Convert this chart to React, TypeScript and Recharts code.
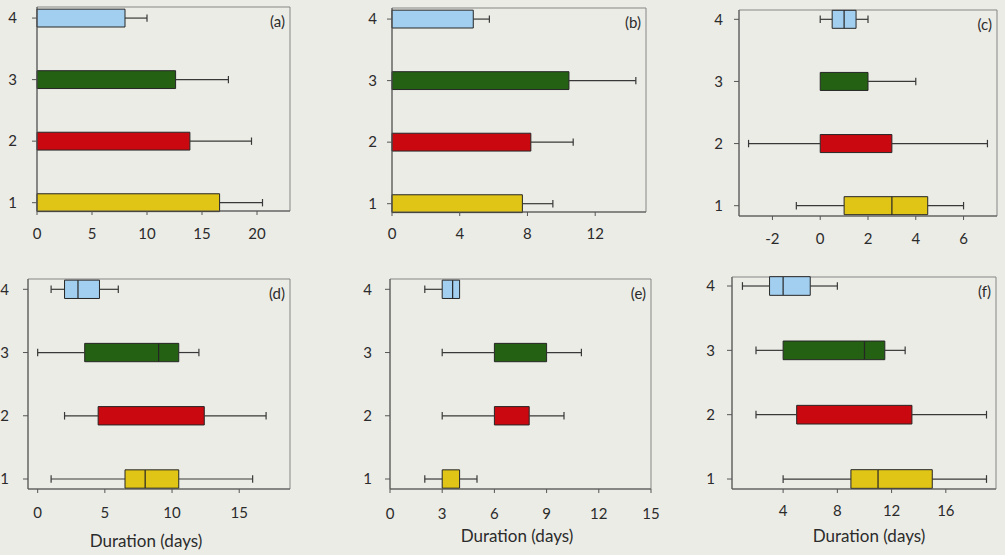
import React from 'react';
import { ComposedChart, XAxis, YAxis, ReferenceArea, ReferenceLine, Scatter } from 'recharts';

type Stat = { row: number; min: number; q1: number; med: number | null; q3: number; max: number };

// Group index on the vertical axis (1 = bottom) and the fill used for each group
const ROWS = [1, 2, 3, 4];
const ROW_FILLS: Record<number, string> = { 1: '#e0c416', 2: '#c9090f', 3: '#246113', 4: '#a2cff0' };

// Five-number summaries per group: whisker min, box start, median, box end, whisker max
const statsA: Stat[] = [
  { row: 1, min: 0, q1: 0, med: null, q3: 16.6, max: 20.5 },
  { row: 2, min: 0, q1: 0, med: null, q3: 13.9, max: 19.5 },
  { row: 3, min: 0, q1: 0, med: null, q3: 12.6, max: 17.4 },
  { row: 4, min: 0, q1: 0, med: null, q3: 8, max: 10 },
];
const statsB: Stat[] = [
  { row: 1, min: 0, q1: 0, med: null, q3: 7.7, max: 9.5 },
  { row: 2, min: 0, q1: 0, med: null, q3: 8.2, max: 10.7 },
  { row: 3, min: 0, q1: 0, med: null, q3: 10.45, max: 14.4 },
  { row: 4, min: 0, q1: 0, med: null, q3: 4.8, max: 5.75 },
];
const statsC: Stat[] = [
  { row: 1, min: -1, q1: 1, med: 3, q3: 4.5, max: 6 },
  { row: 2, min: -3, q1: 0, med: null, q3: 3, max: 7 },
  { row: 3, min: 0, q1: 0, med: null, q3: 2, max: 4 },
  { row: 4, min: 0, q1: 0.5, med: 1, q3: 1.5, max: 2 },
];
const statsD: Stat[] = [
  { row: 1, min: 1, q1: 6.5, med: 8, q3: 10.5, max: 16 },
  { row: 2, min: 2, q1: 4.5, med: null, q3: 12.4, max: 17 },
  { row: 3, min: 0, q1: 3.5, med: 9, q3: 10.5, max: 12 },
  { row: 4, min: 1, q1: 2, med: 3, q3: 4.6, max: 6 },
];
const statsE: Stat[] = [
  { row: 1, min: 2, q1: 3, med: null, q3: 4, max: 5 },
  { row: 2, min: 3, q1: 6, med: null, q3: 8, max: 10 },
  { row: 3, min: 3, q1: 6, med: null, q3: 9, max: 11 },
  { row: 4, min: 2, q1: 3, med: 3.6, q3: 4, max: 4 },
];
const statsF: Stat[] = [
  { row: 1, min: 4, q1: 9, med: 11, q3: 15, max: 19 },
  { row: 2, min: 2, q1: 5, med: null, q3: 13.5, max: 19 },
  { row: 3, min: 2, q1: 4, med: 10, q3: 11.5, max: 13 },
  { row: 4, min: 1, q1: 3, med: 4, q3: 6, max: 8 },
];

// Axis ticks and ranges
const ticksA = [0, 5, 10, 15, 20];
const ticksB = [0, 4, 8, 12];
const ticksC = [-2, 0, 2, 4, 6];
const ticksD = [0, 5, 10, 15];
const ticksE = [0, 3, 6, 9, 12, 15];
const ticksF = [4, 8, 12, 16];
const xDomA: [number, number] = [0, 23];
const xDomB: [number, number] = [0, 15];
const xDomC: [number, number] = [-3.4, 7.4];
const xDomD: [number, number] = [-0.72, 18.78];
const xDomE: [number, number] = [0, 15];
const xDomF: [number, number] = [0.23, 19.7];
const yDomTop: [number, number] = [0.865, 4.18];
const yDomC: [number, number] = [0.834, 4.15];
const yDomBottom: [number, number] = [0.842, 4.163];
const yDomF: [number, number] = [0.845, 4.14];

const X_TITLE = 'Duration (days)';

const BG = '#ecece7';
const TEXT = '#2b2b2b';
const AXIS = '#555555';
const FRAME = '#858585';
const EDGE = '#262626';
const WHISKER = '#383838';
const FONT = 'Lato, "Open Sans", sans-serif';
const BOX_H = 0.145; // half box thickness, in group units
const CAP_H = 0.06; // half whisker-cap length, in group units

type PanelProps = {
  stats: Stat[];
  xDomain: [number, number];
  yDomain: [number, number];
  xTicks: number[];
  tag: string;
  plot: { left: number; top: number; right: number; bottom: number };
  yGap: number;
  xGap: number;
  title?: { offset: number; dx: number };
};

const MedianMark = (props: any) => {
  const { cx, cy } = props;
  if (cx == null || cy == null) return null;
  return <line x1={cx} x2={cx} y1={cy - 9} y2={cy + 9} stroke={EDGE} strokeWidth={1.2} />;
};

function BoxPanel({ stats, xDomain, yDomain, xTicks, tag, plot, yGap, xGap, title }: PanelProps) {
  const axisW = 40;
  const padTop = 5;
  const padRight = 10;
  const xAxisH = title ? 66 : 36;
  const width = axisW + (plot.right - plot.left) + padRight;
  const height = padTop + (plot.bottom - plot.top) + xAxisH;
  const medians = stats.filter((s) => s.med !== null);

  const marks: React.ReactElement[] = [
    <ReferenceArea key="frame" ifOverflow="visible" x1={xDomain[0]} x2={xDomain[1]}
      y1={yDomain[0]} y2={yDomain[1]} fill="none" stroke={FRAME} strokeWidth={1} />,
  ];
  stats.forEach((s) => {
    const k = `r${s.row}`;
    if (s.q1 > s.min) {
      marks.push(
        <ReferenceLine key={k + 'wl'} ifOverflow="visible" stroke={WHISKER} strokeWidth={1.2}
          segment={[{ x: s.min, y: s.row }, { x: s.q1, y: s.row }]} />,
        <ReferenceLine key={k + 'cl'} ifOverflow="visible" stroke={WHISKER} strokeWidth={1.2}
          segment={[{ x: s.min, y: s.row - CAP_H }, { x: s.min, y: s.row + CAP_H }]} />
      );
    }
    if (s.max > s.q3) {
      marks.push(
        <ReferenceLine key={k + 'wr'} ifOverflow="visible" stroke={WHISKER} strokeWidth={1.2}
          segment={[{ x: s.q3, y: s.row }, { x: s.max, y: s.row }]} />,
        <ReferenceLine key={k + 'cr'} ifOverflow="visible" stroke={WHISKER} strokeWidth={1.2}
          segment={[{ x: s.max, y: s.row - CAP_H }, { x: s.max, y: s.row + CAP_H }]} />
      );
    }
    marks.push(
      <ReferenceArea key={k + 'box'} ifOverflow="visible" x1={s.q1} x2={s.q3}
        y1={s.row - BOX_H} y2={s.row + BOX_H} fill={ROW_FILLS[s.row]} fillOpacity={1}
        stroke={EDGE} strokeWidth={1} />
    );
  });

  const tickStyle = { fill: TEXT, fontSize: 15, fontFamily: FONT };

  return (
    <div style={{ position: 'absolute', left: plot.left - axisW, top: plot.top - padTop, width, height }}>
      <ComposedChart width={width} height={height} data={medians}
        margin={{ top: padTop, right: padRight, left: 0, bottom: 0 }}>
        <XAxis type="number" dataKey="med" domain={xDomain} ticks={xTicks} interval={0}
          allowDataOverflow height={xAxisH} tickSize={4} tickMargin={xGap - 4}
          stroke={AXIS} tick={tickStyle}
          label={title ? { value: X_TITLE, position: 'insideBottom', offset: title.offset, dx: title.dx,
            fill: TEXT, fontSize: 17, fontFamily: FONT } : undefined} />
        <YAxis type="number" dataKey="row" domain={yDomain} ticks={ROWS} interval={0}
          allowDataOverflow width={axisW} tickSize={5} tickMargin={yGap - 5}
          stroke={AXIS} tick={tickStyle} />
        {marks}
        <Scatter data={medians} dataKey="row" isAnimationActive={false} shape={MedianMark} />
      </ComposedChart>
      <div style={{ position: 'absolute', right: padRight + 5, top: padTop + 5, fontFamily: FONT,
        fontSize: 15, lineHeight: '18px', color: TEXT }}>{tag}</div>
    </div>
  );
}

export default function App() {
  return (
    <div style={{ position: 'absolute', left: 0, top: 0, width: 1005, height: 555, background: BG, overflow: 'hidden' }}>
      <BoxPanel stats={statsA} xDomain={xDomA} yDomain={yDomTop} xTicks={ticksA} tag="(a)"
        plot={{ left: 37, top: 7, right: 290, bottom: 211 }} yGap={20} xGap={17} />
      <BoxPanel stats={statsB} xDomain={xDomB} yDomain={yDomTop} xTicks={ticksB} tag="(b)"
        plot={{ left: 392, top: 8, right: 646, bottom: 212 }} yGap={15} xGap={16} />
      <BoxPanel stats={statsC} xDomain={xDomC} yDomain={yDomC} xTicks={ticksC} tag="(c)"
        plot={{ left: 739, top: 10, right: 997, bottom: 216 }} yGap={16} xGap={17} />
      <BoxPanel stats={statsD} xDomain={xDomD} yDomain={yDomBottom} xTicks={ticksD} tag="(d)"
        plot={{ left: 28, top: 279, right: 290, bottom: 489 }} yGap={19} xGap={18}
        title={{ offset: 8, dx: -13 }} />
      <BoxPanel stats={statsE} xDomain={xDomE} yDomain={yDomBottom} xTicks={ticksE} tag="(e)"
        plot={{ left: 390, top: 279, right: 651, bottom: 489 }} yGap={18} xGap={19}
        title={{ offset: 13, dx: -3.5 }} />
      <BoxPanel stats={statsF} xDomain={xDomF} yDomain={yDomF} xTicks={ticksF} tag="(f)"
        plot={{ left: 732, top: 277, right: 996, bottom: 489 }} yGap={17} xGap={16}
        title={{ offset: 13, dx: 5 }} />
    </div>
  );
}
